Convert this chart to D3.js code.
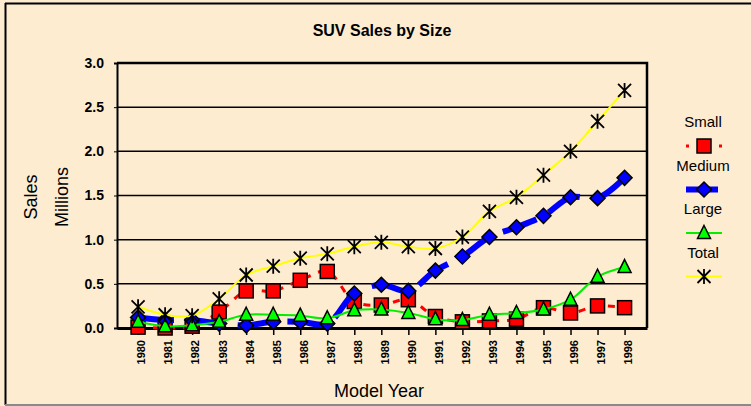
<!DOCTYPE html>
<html>
<head>
<meta charset="utf-8">
<title>SUV Sales by Size</title>
<script src="https://d3js.org/d3.v7.min.js"></script>
<style>
  body { margin: 0; background: #fdecd0; }
  svg { display: block; font-family: Arial, "Liberation Sans", sans-serif; }
</style>
</head>
<body>
<div id="chart"></div>
<script>
// model years and sales (millions)
var years  = [1980,1981,1982,1983,1984,1985,1986,1987,1988,1989,1990,1991,1992,1993,1994,1995,1996,1997,1998];
var small  = [0.01,0.00,0.02,0.18,0.42,0.42,0.54,0.64,0.30,0.26,0.32,0.13,0.07,0.08,0.10,0.23,0.17,0.25,0.23];
var medium = [0.12,0.09,0.09,0.05,0.03,0.07,0.07,0.05,0.39,0.49,0.42,0.65,0.81,1.03,1.14,1.27,1.48,1.47,1.70];
var large  = [0.07,0.02,0.03,0.07,0.15,0.15,0.14,0.11,0.20,0.21,0.17,0.10,0.09,0.15,0.17,0.21,0.32,0.58,0.69];
var total  = [0.24,0.15,0.14,0.33,0.60,0.70,0.79,0.84,0.92,0.97,0.92,0.90,1.03,1.32,1.48,1.73,2.00,2.34,2.69];
var yTicks = [0, 0.5, 1, 1.5, 2, 2.5, 3];

var width = 751, height = 406;
var plot = { left: 117, right: 647, top: 63, bottom: 328 };

var svg = d3.select("#chart").append("svg")
    .attr("width", width)
    .attr("height", height);

// background and frame
svg.append("rect").attr("x", 0).attr("y", 0).attr("width", width).attr("height", height)
    .attr("fill", "#fdecd0");
svg.append("line").attr("x1", 5.5).attr("x2", 5.5).attr("y1", 3).attr("y2", 405)
    .attr("stroke", "#000").attr("stroke-width", 2);
svg.append("line").attr("x1", 5).attr("x2", width).attr("y1", 3.5).attr("y2", 3.5)
    .attr("stroke", "#000").attr("stroke-width", 2);
svg.append("line").attr("x1", 5).attr("x2", width).attr("y1", 405).attr("y2", 405)
    .attr("stroke", "#8a8a8a").attr("stroke-width", 2);

var x = d3.scaleLinear()
    .domain([years[0] - 0.78, years[years.length - 1] + 0.83])
    .range([plot.left, plot.right]);
var y = d3.scaleLinear()
    .domain([0, 3])
    .range([plot.bottom, plot.top]);

// title
svg.append("text")
    .attr("x", 382).attr("y", 36)
    .attr("text-anchor", "middle")
    .style("font-size", "16px").style("font-weight", "bold")
    .text("SUV Sales by Size");

// gridlines
svg.append("g").selectAll("line")
    .data(yTicks.slice(1))
    .enter().append("line")
    .attr("x1", plot.left).attr("x2", plot.right)
    .attr("y1", d => y(d)).attr("y2", d => y(d))
    .attr("stroke", "#000").attr("stroke-width", 1.5);

// y axis
var yAxis = svg.append("g")
    .attr("transform", "translate(" + plot.left + ",0)")
    .call(d3.axisLeft(y).tickValues(yTicks).tickFormat(d3.format(".1f")).tickSize(3));
yAxis.select(".domain").attr("stroke-width", 2);
yAxis.selectAll("text")
    .attr("x", -13)
    .style("font-size", "14px").style("font-weight", "bold")
    .style("font-family", "Arial, 'Liberation Sans', sans-serif")
    .attr("fill", "#000");

// x axis
var xAxis = svg.append("g")
    .attr("transform", "translate(0," + plot.bottom + ")")
    .call(d3.axisBottom(x).tickValues(years).tickFormat(d3.format("d")).tickSize(7).tickSizeOuter(0));
xAxis.select(".domain").attr("stroke-width", 3);
xAxis.selectAll(".tick line").attr("stroke-width", 1.5);
xAxis.selectAll("text")
    .attr("transform", "rotate(-90)")
    .attr("x", -12).attr("y", 3).attr("dy", "0.35em")
    .attr("text-anchor", "end")
    .style("font-size", "11px").style("font-weight", "bold")
    .style("font-family", "Arial, 'Liberation Sans', sans-serif")
    .attr("fill", "#000");

// plot frame top and right
svg.append("path")
    .attr("d", "M" + plot.left + "," + plot.top + "H" + plot.right + "V" + plot.bottom)
    .attr("fill", "none").attr("stroke", "#000").attr("stroke-width", 2.5);

// axis titles
svg.append("text")
    .attr("transform", "translate(37,197) rotate(-90)")
    .attr("text-anchor", "middle")
    .style("font-size", "18px")
    .text("Sales");
svg.append("text")
    .attr("transform", "translate(68,197) rotate(-90)")
    .attr("text-anchor", "middle")
    .style("font-size", "18px")
    .text("Millions");
svg.append("text")
    .attr("x", 379).attr("y", 397)
    .attr("text-anchor", "middle")
    .style("font-size", "18px")
    .text("Model Year");

// marker shapes
function drawMarker(g, type, size) {
  if (type === "square") {
    g.append("rect").attr("x", -size / 2).attr("y", -size / 2)
      .attr("width", size).attr("height", size)
      .attr("fill", "#ff0000").attr("stroke", "#000").attr("stroke-width", 1.5);
  } else if (type === "diamond") {
    var h = size / 2 + 1;
    g.append("path").attr("d", "M0," + (-h) + "L" + h + ",0L0," + h + "L" + (-h) + ",0Z")
      .attr("fill", "#0000ff").attr("stroke", "#000").attr("stroke-width", 1.5);
  } else if (type === "triangle") {
    var t = size / 2;
    g.append("path").attr("d", "M0," + (-t - 1) + "L" + t + "," + (t - 1) + "L" + (-t) + "," + (t - 1) + "Z")
      .attr("fill", "#00ff00").attr("stroke", "#000").attr("stroke-width", 1.5);
  } else {
    var s = size / 2;
    g.append("path").attr("d", "M" + (-s) + "," + (-s) + "L" + s + "," + s + "M" + (-s) + "," + s + "L" + s + "," + (-s) + "M0," + (-s - 1) + "L0," + (s + 1))
      .attr("fill", "none").attr("stroke", "#000").attr("stroke-width", 1.8);
  }
}

var series = [
  { name: "Small",  values: small,  color: "#ff0000", width: 3,   dash: "7,8",   marker: "square",   size: 14 },
  { name: "Medium", values: medium, color: "#0000ff", width: 6,   dash: "36,14", marker: "diamond",  size: 13 },
  { name: "Large",  values: large,  color: "#00ee00", width: 2,   dash: null,    marker: "triangle", size: 13 },
  { name: "Total",  values: total,  color: "#ffff00", width: 2,   dash: null,    marker: "star",     size: 13 }
];

var line = d3.line()
    .x(d => x(d[0]))
    .y(d => y(d[1]))
    .curve(d3.curveCatmullRom.alpha(0.5));

series.forEach(function(s) {
  var pts = years.map((yr, i) => [yr, s.values[i]]);
  var g = svg.append("g");
  g.append("path")
    .attr("d", line(pts))
    .attr("fill", "none")
    .attr("stroke", s.color)
    .attr("stroke-width", s.width)
    .attr("stroke-dasharray", s.dash);
  g.selectAll("g.m")
    .data(pts)
    .enter().append("g")
    .attr("class", "m")
    .attr("transform", d => "translate(" + x(d[0]) + "," + y(d[1]) + ")")
    .each(function() { drawMarker(d3.select(this), s.marker, s.size); });
});

// legend
var legend = svg.append("g");
series.forEach(function(s, i) {
  var ty = 127 + i * 43.5;
  legend.append("text")
    .attr("x", 703).attr("y", ty)
    .attr("text-anchor", "middle")
    .style("font-size", "15px")
    .text(s.name);
  var my = ty + 19;
  legend.append("line")
    .attr("x1", 686).attr("x2", 722).attr("y1", my).attr("y2", my)
    .attr("stroke", s.color).attr("stroke-width", s.width)
    .attr("stroke-dasharray", s.name === "Small" ? "3,11,8,11,3" : (s.name === "Medium" ? "14,8,10" : null));
  var m = legend.append("g").attr("transform", "translate(704," + my + ")");
  drawMarker(m, s.marker, s.size);
});
</script>
</body>
</html>
